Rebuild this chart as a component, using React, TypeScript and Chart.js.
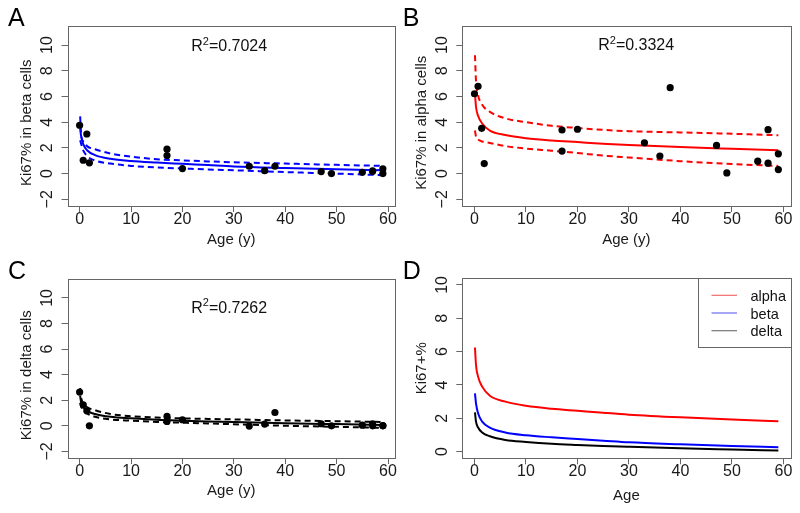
import React, { useEffect, useRef } from "react";
import { Chart, registerables } from "chart.js";
Chart.register(...registerables);

// ---------- data ----------
const ages = [0, 0.7, 1.4, 1.9, 17, 17, 20, 33, 36, 38, 47, 49, 55, 57, 57, 59, 59];
const betaKi67 = [3.76, 1.04, 3.08, 0.84, 1.9, 1.41, 0.39, 0.57, 0.23, 0.57, 0.16, 0.0, 0.1, 0.22, 0.18, 0.37, 0.0];
const alphaKi67 = [6.21, 6.79, 3.52, 0.78, 3.39, 1.75, 3.45, 2.4, 1.36, 6.68, 2.19, 0.05, 0.97, 3.42, 0.81, 1.54, 0.31];
const deltaKi67 = [2.64, 1.64, 1.17, 0.0, 0.73, 0.34, 0.47, -0.02, 0.13, 1.04, 0.16, 0.0, 0.05, 0.16, 0.0, 0.02, 0.0];

const fitAges = [0.1, 0.3, 0.7, 1.5, 3, 6, 10, 15, 20, 25, 30, 40, 50, 59];
const betaFit = [3.5, 2.9, 2.3, 1.8, 1.44, 1.15, 0.98, 0.86, 0.76, 0.66, 0.56, 0.44, 0.34, 0.26];
const betaUpper = [4.45, 3.0, 2.5, 2.12, 1.9, 1.56, 1.32, 1.12, 1.03, 0.95, 0.88, 0.78, 0.68, 0.6];
const betaLower = [2.6, 2.3, 1.8, 1.35, 1.02, 0.78, 0.6, 0.48, 0.4, 0.32, 0.26, 0.12, 0.0, -0.12];
const alphaFit = [6.25, 5.2, 4.5, 3.9, 3.35, 3.0, 2.75, 2.57, 2.45, 2.33, 2.22, 2.06, 1.93, 1.82];
const alphaUpper = [9.2, 7.2, 6.1, 5.35, 4.8, 4.3, 4.0, 3.72, 3.55, 3.4, 3.3, 3.2, 3.1, 2.98];
const alphaLower = [3.35, 2.87, 2.65, 2.5, 2.38, 2.14, 1.95, 1.78, 1.6, 1.4, 1.25, 0.97, 0.74, 0.6];
const deltaFit = [2.35, 1.8, 1.45, 1.15, 0.92, 0.7, 0.58, 0.47, 0.4, 0.34, 0.29, 0.2, 0.13, 0.07];
const deltaUpper = [2.95, 2.2, 1.75, 1.45, 1.22, 0.92, 0.75, 0.64, 0.58, 0.54, 0.5, 0.42, 0.36, 0.3];
const deltaLower = [1.8, 1.5, 1.25, 0.95, 0.7, 0.5, 0.4, 0.3, 0.24, 0.18, 0.12, 0.0, -0.08, -0.17];

const xTicks = [0, 10, 20, 30, 40, 50, 60];
const yTicksFit = [-2, 0, 2, 4, 6, 8, 10];
const yTicksSummary = [0, 2, 4, 6, 8, 10];
const legendLabels = ["alpha", "beta", "delta"];
const legendColors = ["#f06b6b", "#6b6bf0", "#777777"];

// ---------- helpers ----------
const FONT = '"Liberation Sans", Arial, Helvetica, sans-serif';
const W = 800;
const H = 513;
const pts = (xs: number[], ys: number[]) => xs.map((x, i) => ({ x, y: ys[i] }));

const pointSet = (ys: number[]) => ({
  data: pts(ages, ys),
  showLine: false,
  pointRadius: 3.6,
  pointBackgroundColor: "#000",
  pointBorderWidth: 0,
  borderColor: "#000",
});
const lineSet = (ys: number[], color: string, dashed: boolean) => ({
  data: pts(fitAges, ys),
  borderColor: color,
  borderWidth: 2,
  borderDash: dashed ? [6, 4] : [],
  pointRadius: 0,
  cubicInterpolationMode: "monotone",
  fill: false,
});

type Area = { l: number; t: number; r: number; b: number };
type Panel = {
  letter: string;
  area: Area;
  yMin: number;
  yMax: number;
  yTicks: number[];
  yTitle: string;
  xTitle: string;
  yTitleDy: number;
  xTitleDy: number;
  r2?: string;
  r2X?: number;
  r2Y?: number;
  legend?: boolean;
  datasets: any[];
};

const panels: Panel[] = [
  {
    letter: "A",
    area: { l: 67.5, t: 25.5, r: 395, b: 206 },
    yMin: -2.52, yMax: 11.52, yTicks: yTicksFit,
    yTitle: "Ki67% in beta cells", xTitle: "Age (y)", yTitleDy: 7, xTitleDy: 34,
    r2: "0.7024", r2X: 29.1, r2Y: 9.85,
    datasets: [pointSet(betaKi67), lineSet(betaFit, "#0000ff", false), lineSet(betaUpper, "#0000ff", true), lineSet(betaLower, "#0000ff", true)],
  },
  {
    letter: "B",
    area: { l: 462.3, t: 25.5, r: 790.5, b: 206 },
    yMin: -2.52, yMax: 11.52, yTicks: yTicksFit,
    yTitle: "Ki67% in alpha cells", xTitle: "Age (y)", yTitleDy: 7, xTitleDy: 34,
    r2: "0.3324", r2X: 31.4, r2Y: 9.95,
    datasets: [pointSet(alphaKi67), lineSet(alphaFit, "#ff0000", false), lineSet(alphaUpper, "#ff0000", true), lineSet(alphaLower, "#ff0000", true)],
  },
  {
    letter: "C",
    area: { l: 67.5, t: 278.5, r: 395, b: 458 },
    yMin: -2.52, yMax: 11.52, yTicks: yTicksFit,
    yTitle: "Ki67% in delta cells", xTitle: "Age (y)", yTitleDy: 7, xTitleDy: 33,
    r2: "0.7262", r2X: 29.1, r2Y: 9.2,
    datasets: [pointSet(deltaKi67), lineSet(deltaFit, "#000000", false), lineSet(deltaUpper, "#000000", true), lineSet(deltaLower, "#000000", true)],
  },
  {
    letter: "D",
    area: { l: 462.3, t: 278.3, r: 790.5, b: 458.3 },
    yMin: -0.4, yMax: 10.4, yTicks: yTicksSummary,
    yTitle: "Ki67+%", xTitle: "Age", yTitleDy: 0, xTitleDy: 38,
    legend: true,
    datasets: [lineSet(alphaFit, "#ff0000", false), lineSet(betaFit, "#0000ff", false), lineSet(deltaFit, "#000000", false)],
  },
];

function decor(p: Panel) {
  return {
    id: "decor" + p.letter,
    afterDraw(chart: any) {
      const ctx = chart.ctx as CanvasRenderingContext2D;
      const { left, right, top, bottom } = chart.chartArea;
      const xs = chart.scales.x;
      const ys = chart.scales.y;
      ctx.save();
      // box
      ctx.strokeStyle = "#666";
      ctx.lineWidth = 1;
      const L = Math.round(left) + 0.5, T = Math.round(top) + 0.5;
      const R = Math.round(right) + 0.5, B = Math.round(bottom) + 0.5;
      ctx.strokeRect(L, T, R - L, B - T);
      // tick labels
      ctx.fillStyle = "#1a1a1a";
      ctx.font = `16px ${FONT}`;
      ctx.textAlign = "center";
      ctx.textBaseline = "middle";
      xTicks.forEach((v) => ctx.fillText(String(v), xs.getPixelForValue(v), bottom + 13.5));
      p.yTicks.forEach((v) => {
        const y = ys.getPixelForValue(v);
        ctx.save();
        ctx.translate(left - 20, y);
        ctx.rotate(-Math.PI / 2);
        ctx.fillText(v < 0 ? "\u2212" + Math.abs(v) : String(v), 0, 0);
        ctx.restore();
      });
      // axis titles
      ctx.font = `15px ${FONT}`;
      ctx.fillText(p.xTitle, (left + right) / 2, bottom + p.xTitleDy);
      ctx.save();
      ctx.translate(left - 40.5, (top + bottom) / 2 + p.yTitleDy);
      ctx.rotate(-Math.PI / 2);
      ctx.fillText(p.yTitle, 0, 0);
      ctx.restore();
      // panel letter
      ctx.font = `25px ${FONT}`;
      ctx.textAlign = "left";
      ctx.textBaseline = "alphabetic";
      ctx.fillStyle = "#000";
      ctx.fillText(p.letter, left - 59.5, top + 0.5);
      // R^2
      if (p.r2) {
        const cx = xs.getPixelForValue(p.r2X);
        const cy = ys.getPixelForValue(p.r2Y);
        ctx.textBaseline = "middle";
        ctx.font = `16px ${FONT}`;
        const wR = ctx.measureText("R").width;
        const rest = "=" + p.r2;
        const wRest = ctx.measureText(rest).width;
        ctx.font = `11px ${FONT}`;
        const wS = ctx.measureText("2").width;
        const total = wR + wS + wRest;
        let x = cx - total / 2;
        ctx.fillStyle = "#111";
        ctx.font = `16px ${FONT}`;
        ctx.fillText("R", x, cy);
        x += wR;
        ctx.font = `11px ${FONT}`;
        ctx.fillText("2", x, cy - 5);
        x += wS;
        ctx.font = `16px ${FONT}`;
        ctx.fillText(rest, x, cy);
      }
      // legend
      if (p.legend) {
        const bw = 92.5, bh = 68.5;
        const bx = Math.round(right - bw) + 0.5;
        ctx.strokeStyle = "#666";
        ctx.strokeRect(bx, T, R - bx, Math.round(bh));
        ctx.font = `14.5px ${FONT}`;
        ctx.textBaseline = "alphabetic";
        ctx.textAlign = "left";
        legendLabels.forEach((lab, i) => {
          const ly = top + 17 + i * 17.7;
          ctx.strokeStyle = legendColors[i];
          ctx.lineWidth = 1.2;
          ctx.beginPath();
          ctx.moveTo(bx + 13, ly);
          ctx.lineTo(bx + 38.5, ly);
          ctx.stroke();
          ctx.fillStyle = "#111";
          ctx.fillText(lab, bx + 52, ly + 5.5);
        });
      }
      ctx.restore();
    },
  };
}

function PanelChart({ p }: { p: Panel }) {
  const ref = useRef<HTMLCanvasElement | null>(null);
  useEffect(() => {
    if (!ref.current) return;
    const axisCommon = {
      type: "linear" as const,
      ticks: { display: false },
      grid: { display: true, drawOnChartArea: false, drawTicks: true, tickLength: 6, color: "#666", lineWidth: 1 },
      border: { display: false },
      title: { display: false },
    };
    const chart = new Chart(ref.current, {
      type: "line",
      data: { datasets: p.datasets.map((d) => ({ ...d })) },
      options: {
        animation: false,
        responsive: false,
        devicePixelRatio: 1,
        events: [],
        layout: {
          padding: { left: p.area.l, top: p.area.t, right: W - p.area.r, bottom: H - p.area.b },
        },
        plugins: { legend: { display: false }, tooltip: { enabled: false } },
        scales: {
          x: {
            ...axisCommon,
            min: -2.36,
            max: 61.36,
            afterBuildTicks: (s: any) => { s.ticks = xTicks.map((v) => ({ value: v })); },
            afterFit: (s: any) => { s.height = 0; },
          },
          y: {
            ...axisCommon,
            min: p.yMin,
            max: p.yMax,
            afterBuildTicks: (s: any) => { s.ticks = p.yTicks.map((v) => ({ value: v })); },
            afterFit: (s: any) => { s.width = 0; },
          },
        },
      } as any,
      plugins: [decor(p)],
    });
    return () => chart.destroy();
  }, [p]);
  return (
    <canvas
      ref={ref}
      width={W}
      height={H}
      style={{ position: "absolute", left: 0, top: 0, width: W, height: H }}
    />
  );
}

export default function App() {
  return (
    <div style={{ position: "absolute", left: 0, top: 0, width: W, height: H, background: "#fff", overflow: "hidden" }}>
      {panels.map((p) => (
        <PanelChart key={p.letter} p={p} />
      ))}
    </div>
  );
}
